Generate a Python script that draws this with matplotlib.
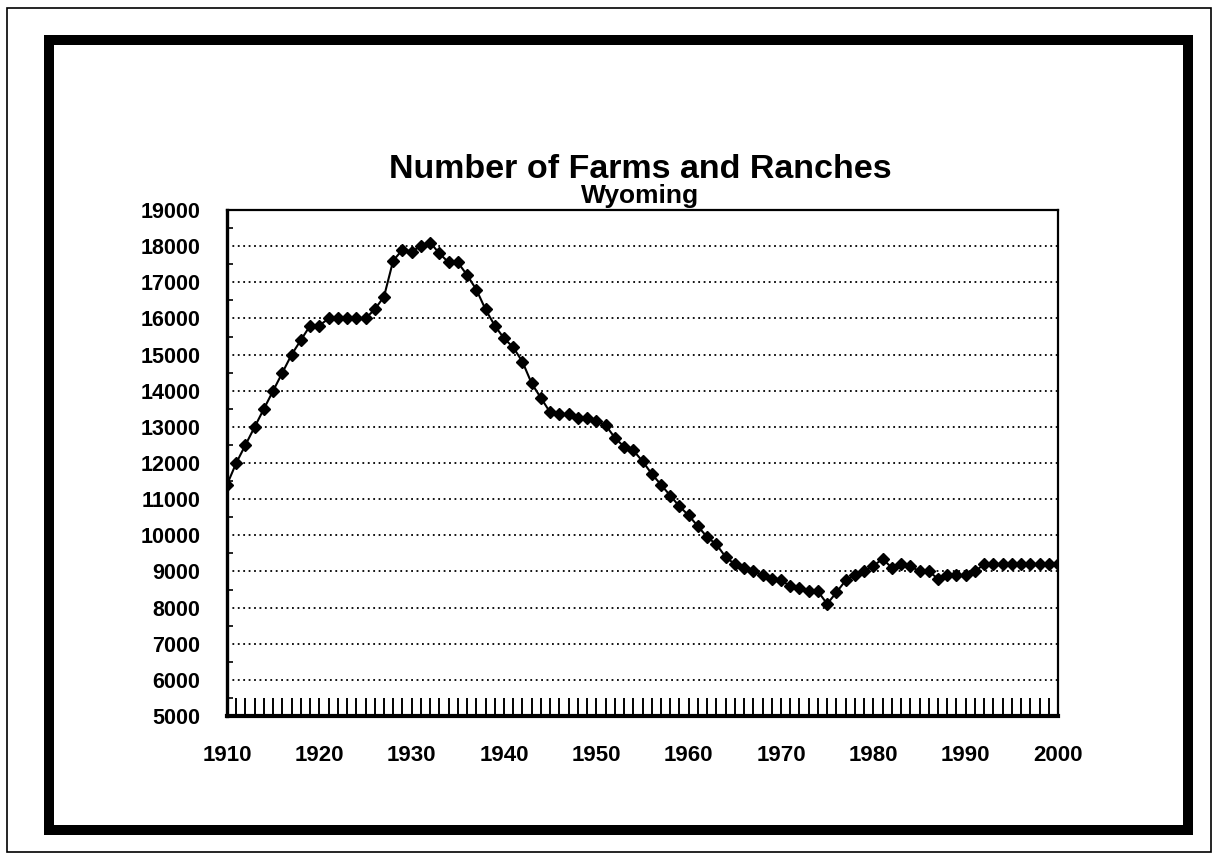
import matplotlib.pyplot as plt
from matplotlib.patches import Rectangle
from matplotlib.ticker import MultipleLocator

years = list(range(1910, 2001))
farms = [
    11400, 12000, 12500, 13000, 13500, 14000, 14500, 15000, 15400, 15800,  # 1910-1919
    15800, 16000, 16000, 16000, 16000, 16000, 16250, 16600, 17600, 17900,  # 1920-1929
    17850, 18000, 18100, 17800, 17550, 17550, 17200, 16800, 16250, 15800,  # 1930-1939
    15450, 15200, 14800, 14200, 13800, 13400, 13350, 13350, 13250, 13250,  # 1940-1949
    13150, 13050, 12700, 12450, 12350, 12050, 11700, 11400, 11100, 10800,  # 1950-1959
    10550, 10250, 9950, 9750, 9400, 9200, 9100, 9000, 8900, 8800,          # 1960-1969
    8750, 8600, 8550, 8450, 8450, 8100, 8420, 8750, 8900, 9000,            # 1970-1979
    9150, 9350, 9100, 9200, 9150, 9000, 9000, 8800, 8900, 8900,            # 1980-1989
    8900, 9000, 9200, 9200, 9200, 9200, 9200, 9200, 9200, 9200,            # 1990-1999
    9200,                                                                  # 2000
]
x_labels = list(range(1910, 2001, 10))
y_labels = list(range(5000, 19001, 1000))

plt.rcParams["font.family"] = ["Liberation Sans", "DejaVu Sans"]

W, H = 1217, 859
fig = plt.figure(figsize=(W / 100, H / 100), dpi=100)
fig.patch.set_facecolor("white")


def px_rect(x0, y0, x1, y1, lw):
    # rectangle given in pixel coords from the top-left corner
    return Rectangle((x0 / W, 1 - y1 / H), (x1 - x0) / W, (y1 - y0) / H,
                     transform=fig.transFigure, fill=False,
                     edgecolor="black", linewidth=lw)


fig.add_artist(px_rect(6.5, 8, 1210.5, 852, 1.2))
fig.add_artist(px_rect(49, 39.5, 1188, 830, 7.2))

fig.text(640 / W, 1 - 169 / H, "Number of Farms and Ranches",
         ha="center", va="center", fontsize=24.5, fontweight="bold")
fig.text(640 / W, 1 - 196 / H, "Wyoming",
         ha="center", va="center", fontsize=19, fontweight="bold")

ax = fig.add_axes([227 / W, 1 - 716 / H, (1058 - 227) / W, (716 - 210) / H])
ax.plot(years, farms, color="black", linewidth=1.5, marker="D",
        markersize=6, markerfacecolor="black", markeredgecolor="black")

ax.set_xlim(1910, 2000)
ax.set_ylim(5000, 19000)
ax.set_xticks(x_labels)
ax.set_yticks(y_labels)
ax.xaxis.set_minor_locator(MultipleLocator(1))
ax.yaxis.set_minor_locator(MultipleLocator(500))

ax.grid(axis="y", which="major", color="black", linestyle=(0, (1, 2)),
        linewidth=1.3)
ax.tick_params(axis="x", which="both", direction="in", length=13, width=1.4,
               pad=21, labelsize=16)
ax.tick_params(axis="y", which="major", length=0, pad=19, labelsize=15.5)
ax.tick_params(axis="y", which="minor", direction="in", length=4, width=1.2)
for lab in ax.get_xticklabels() + ax.get_yticklabels():
    lab.set_fontweight("bold")

ax.spines["left"].set_linewidth(2.4)
ax.spines["bottom"].set_linewidth(3)
ax.spines["top"].set_linewidth(1.6)
ax.spines["right"].set_linewidth(1.6)

fig.savefig("out.png", dpi=100)
